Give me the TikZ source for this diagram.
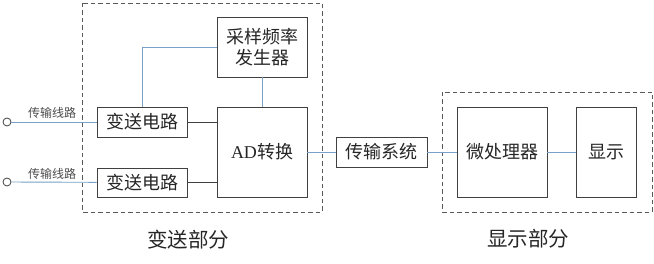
\documentclass[tikz,border=0pt]{standalone}
\usepackage{fontspec}
\setmainfont{Liberation Serif}
\newfontfamily\cjk{Noto Sans CJK SC}
\begin{document}
\begin{tikzpicture}[x=1pt,y=-1pt,
  blk/.style={draw=black!75,line width=0.9pt,inner sep=0pt},
  grp/.style={draw=black!65,dashed,line width=0.9pt,dash pattern=on 4.5pt off 3pt},
  bl/.style={draw={rgb,255:red,120;green,160;blue,200},line width=0.9pt},
  dk/.style={draw=black!75,line width=0.9pt},
  txt/.style={font=\cjk\fontsize{18}{21}\selectfont,text=black!85},
  lab/.style={font=\cjk\fontsize{12}{13}\selectfont,text=black!70},
  captxt/.style={font=\cjk\fontsize{20.5}{23}\selectfont,text=black!85}]
\useasboundingbox (0,0) rectangle (654,264);
\fill[white] (0,0) rectangle (654,264);
% groups
\draw[grp] (82,3) rectangle (322,212);
\draw[grp] (442,92) rectangle (652,212);
% blocks
\node[blk,minimum width=90pt,minimum height=60pt,txt,align=center] (sf) at (262,47) {采样频率\\发生器};
\node[blk,minimum width=90pt,minimum height=30pt,txt] (t1) at (142,122) {变送电路};
\node[blk,minimum width=90pt,minimum height=29pt,txt] (t2) at (142,182.5) {变送电路};
\node[blk,minimum width=90pt,minimum height=90pt,txt] (ad) at (262,152) {\fontspec{Liberation Serif}AD\cjk 转换};
\node[blk,minimum width=91pt,minimum height=30pt,txt] (cs) at (381.5,152) {传输系统};
\node[blk,minimum width=90pt,minimum height=90pt,txt] (mp) at (502,152) {微处理器};
\node[blk,minimum width=60pt,minimum height=90pt,txt] (xs) at (606,152) {显示};
% terminals
\node[draw=black!75,circle,minimum size=8pt,inner sep=0pt,line width=0.8pt] (c1) at (7,122) {};
\node[draw=black!75,circle,minimum size=8pt,inner sep=0pt,line width=0.8pt] (c2) at (7,182) {};
\node[lab] (l1) at (52,113) {传输线路};
\node[lab] (l2) at (52,174) {传输线路};
% connectors
\draw[bl] (c1) -- (t1);
\draw[bl] (c2) -- (t2);
\draw[dk] (t1.east) -- (t1.east -| ad.west);
\draw[dk] (t2.east) -- (t2.east -| ad.west);
\draw[bl] (t1.north) |- (sf.west);
\draw[bl] (sf.south) -- (ad.north);
\draw[bl] (ad.east) -- (cs.west);
\draw[bl] (cs.east) -- (mp.west);
\draw[bl] (mp.east) -- (xs.west);
% captions
\node[captxt] (k1) at (188,240) {变送部分};
\node[captxt] (k2) at (528,239) {显示部分};
\end{tikzpicture}
\end{document}
